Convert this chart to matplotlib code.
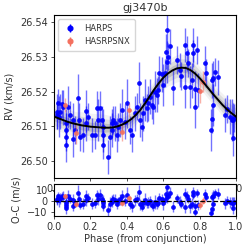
import numpy as np
import matplotlib
matplotlib.use("Agg")
import matplotlib.pyplot as plt

plt.rcParams['font.family'] = ['DejaVu Sans']
plt.rcParams['font.size'] = 7
plt.rcParams['text.color'] = '0.2'
plt.rcParams['axes.labelcolor'] = '0.2'
plt.rcParams['xtick.color'] = '0.2'
plt.rcParams['ytick.color'] = '0.2'

# model curve (phase, km/s)
model_phase = [0.000, 0.025, 0.050, 0.075, 0.100, 0.125, 0.150, 0.175, 0.200, 0.225,
               0.250, 0.275, 0.300, 0.325, 0.350, 0.375, 0.400, 0.425, 0.450, 0.475,
               0.500, 0.525, 0.550, 0.575, 0.600, 0.625, 0.650, 0.675, 0.700, 0.725,
               0.750, 0.775, 0.800, 0.825, 0.850, 0.875, 0.900, 0.925, 0.950, 0.975, 1.000]
model_rv = [26.5128, 26.5123, 26.5118, 26.5113, 26.5109, 26.5106, 26.5103, 26.5101, 26.5099, 26.5098,
            26.5097, 26.5096, 26.5096, 26.5097, 26.5100, 26.5105, 26.5112, 26.5121, 26.5133, 26.5148,
            26.5166, 26.5186, 26.5206, 26.5224, 26.5240, 26.5252, 26.5261, 26.5267, 26.5269, 26.5268,
            26.5262, 26.5252, 26.5239, 26.5224, 26.5208, 26.5192, 26.5177, 26.5162, 26.5149, 26.5138, 26.5128]
model_sig = [0.0012, 0.0012, 0.0012, 0.0012, 0.0012, 0.0012, 0.0013, 0.0013, 0.0013, 0.0013,
             0.0013, 0.0013, 0.0012, 0.0012, 0.0011, 0.0010, 0.0010, 0.0009, 0.0009, 0.0009,
             0.0009, 0.0009, 0.0009, 0.0010, 0.0011, 0.0012, 0.0013, 0.0013, 0.0013, 0.0013,
             0.0013, 0.0012, 0.0011, 0.0010, 0.0010, 0.0010, 0.0010, 0.0011, 0.0011, 0.0012, 0.0012]

# HARPS data: phase, RV (km/s), error (m/s)
harps_phase = [0.015, 0.015, 0.024, 0.029, 0.033, 0.042, 0.051, 0.064, 0.066, 0.066,
               0.066, 0.079, 0.088, 0.103, 0.106, 0.115, 0.134, 0.137, 0.143, 0.161,
               0.176, 0.176, 0.189, 0.207, 0.225, 0.234, 0.243, 0.253, 0.262, 0.267,
               0.271, 0.271, 0.298, 0.308, 0.317, 0.317, 0.326, 0.335, 0.344, 0.353,
               0.363, 0.372, 0.390, 0.399, 0.418, 0.427, 0.445, 0.454, 0.469, 0.473,
               0.482, 0.491, 0.500, 0.509, 0.518, 0.527, 0.537, 0.546, 0.555, 0.564,
               0.573, 0.579, 0.592, 0.601, 0.610, 0.616, 0.619, 0.619, 0.628, 0.637,
               0.656, 0.674, 0.690, 0.700, 0.720, 0.720, 0.729, 0.738, 0.747, 0.757,
               0.766, 0.766, 0.775, 0.775, 0.784, 0.793, 0.830, 0.835, 0.861, 0.866,
               0.866, 0.875, 0.875, 0.885, 0.903, 0.940, 0.950, 0.967, 0.976, 0.985,
               0.985, 0.990]
harps_rv = [26.5133, 26.5142, 26.5168, 26.5128, 26.5142, 26.5164, 26.5155, 26.5109, 26.5089, 26.5068,
            26.5046, 26.5155, 26.5133, 26.5118, 26.5063, 26.5089, 26.5181, 26.5118, 26.5070, 26.5075,
            26.5145, 26.5109, 26.5128, 26.5075, 26.5075, 26.5152, 26.5118, 26.5152, 26.5118, 26.5075,
            26.5046, 26.5099, 26.5012, 26.5070, 26.5109, 26.5089, 26.5118, 26.5109, 26.5075, 26.5099,
            26.5118, 26.5147, 26.5113, 26.5166, 26.5089, 26.5075, 26.5137, 26.5157, 26.5226, 26.5118,
            26.5099, 26.5137, 26.5176, 26.5152, 26.5166, 26.5185, 26.5161, 26.5157, 26.5200, 26.5190,
            26.5205, 26.5253, 26.5250, 26.5219, 26.5253, 26.5315, 26.5378, 26.5286, 26.5301, 26.5331,
            26.5211, 26.5291, 26.5262, 26.5245, 26.5334, 26.5214, 26.5310, 26.5282, 26.5214, 26.5233,
            26.5334, 26.5310, 26.5209, 26.5155, 26.5320, 26.5205, 26.5282, 26.5253, 26.5089, 26.5233,
            26.5120, 26.5238, 26.5161, 26.5257, 26.5241, 26.5133, 26.5150, 26.5128, 26.5118, 26.5118,
            26.5065, 26.5125]
harps_err = [4, 5, 4, 6, 5, 4, 5, 4, 5, 4,
             5, 6, 4, 5, 5, 4, 7, 5, 4, 5,
             6, 5, 4, 5, 4, 5, 6, 5, 4, 5,
             4, 5, 5, 6, 4, 5, 4, 5, 5, 4,
             5, 6, 5, 7, 4, 5, 5, 4, 6, 5,
             4, 5, 6, 4, 5, 5, 4, 5, 6, 5,
             4, 5, 5, 6, 4, 5, 5, 6, 4, 5,
             5, 4, 5, 4, 5, 6, 5, 4, 6, 5,
             5, 4, 5, 6, 4, 5, 5, 4, 6, 5,
             4, 5, 6, 4, 5, 5, 4, 5, 6, 5,
             5, 4]

# HASRPSNX data
nx_phase = [0.060, 0.119, 0.372, 0.414, 0.802, 0.820]
nx_rv = [26.5161, 26.5080, 26.5084, 26.5147, 26.5203, 26.5229]
nx_err = [2.0, 3.0, 2.5, 2.0, 3.5, 3.0]

harps_phase = np.array(harps_phase)
harps_rv = np.array(harps_rv)
harps_err = np.array(harps_err) / 1000.0
nx_phase = np.array(nx_phase)
nx_rv = np.array(nx_rv)
nx_err = np.array(nx_err) / 1000.0
model_phase = np.array(model_phase)
model_rv = np.array(model_rv)
model_sig = np.array(model_sig)

harps_res = (harps_rv - np.interp(harps_phase, model_phase, model_rv)) * 1000
nx_res = (nx_rv - np.interp(nx_phase, model_phase, model_rv)) * 1000

blue = '#0000ff'
red = '#f4705f'


def draw_points(ax, x, y, err, color, label=None, z=2):
    ax.errorbar(x, y, yerr=err, fmt='none', ecolor=color, elinewidth=1.0,
                alpha=0.55, zorder=z)
    ax.plot(x, y, 'o', ms=3.4, color=color, mew=0, alpha=0.95, zorder=z + 0.5)
    if label is not None:
        ax.errorbar([], [], yerr=[], fmt='o', ms=3.4, color=color, ecolor=color,
                    elinewidth=1.0, label=label)


fig = plt.figure(figsize=(2.49, 2.49), dpi=100)
ax1 = fig.add_axes([0.217, 0.285, 0.731, 0.655])
ax2 = fig.add_axes([0.217, 0.133, 0.731, 0.128])

# top panel
for k, a in zip([3, 2, 1], [0.1, 0.18, 0.3]):
    ax1.fill_between(model_phase, model_rv - k * model_sig, model_rv + k * model_sig,
                     color='grey', alpha=a, lw=0, zorder=1)
draw_points(ax1, harps_phase, harps_rv, harps_err, blue, 'HARPS', z=2)
draw_points(ax1, nx_phase, nx_rv, nx_err, red, 'HASRPSNX', z=3)
ax1.plot(model_phase, model_rv, color='black', lw=1.4, zorder=4)
ax1.set_xlim(0, 1)
ax1.set_ylim(26.4951, 26.5421)
ax1.set_yticks([26.50, 26.51, 26.52, 26.53, 26.54])
ax1.yaxis.set_major_formatter(matplotlib.ticker.FormatStrFormatter('%.2f'))
ax1.set_ylabel('RV (km/s)')
ax1.set_title('gj3470b', fontsize=8, pad=3)
ax1.legend(loc='upper left', fontsize=6, frameon=True, handletextpad=0.9,
           borderpad=0.6, labelspacing=0.5, handlelength=1.6)
ax1.tick_params(length=2.5, width=0.6, pad=2)

# residual panel
draw_points(ax2, harps_phase, harps_res, harps_err * 1000, blue, z=2)
draw_points(ax2, nx_phase, nx_res, nx_err * 1000, red, z=3)
ax2.axhline(0, color='black', ls='--', lw=0.9, zorder=5)
ax2.set_xlim(0, 1)
ax2.set_ylim(-13.7, 15.5)
ax2.set_yticks([-10, 0, 10])
ax2.set_ylabel('O-C (m/s)')
ax2.set_xlabel('Phase (from conjunction)', labelpad=1)
ax2.tick_params(length=2.5, width=0.6, pad=2)

fig.savefig('out.png', dpi=100)
